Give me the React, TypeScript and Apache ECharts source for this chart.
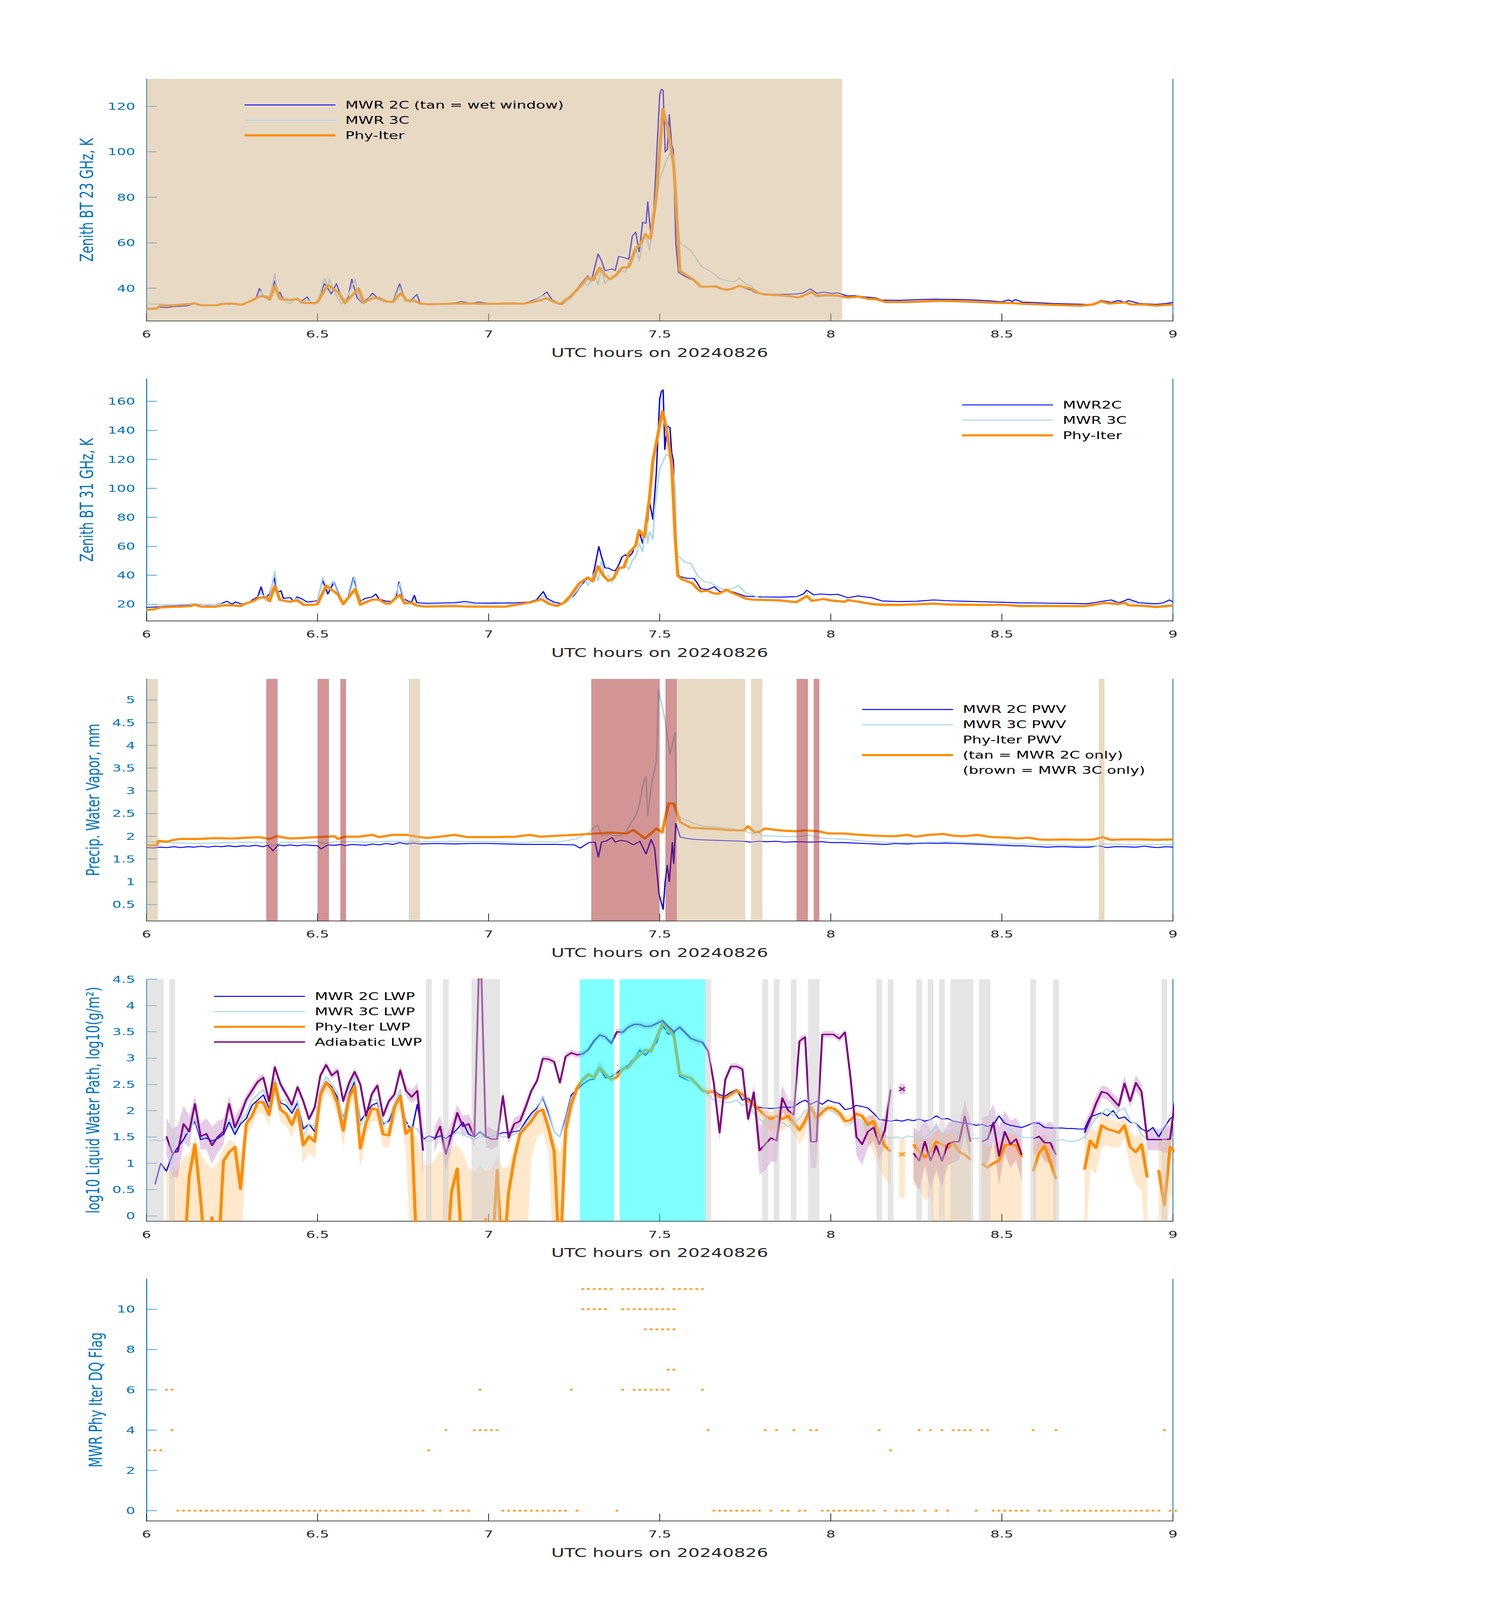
import * as echarts from 'echarts';
import { useEffect, useRef } from 'react';

type Pt = [number, number];
type Opt = number | null;

// ---------- Panel 1: zenith brightness temperature 23 GHz (K), [UTC hour, K] ----------
const bt23Mwr2c: Pt[] = [
  [6.00,31.3],[6.02,31.2],[6.04,31.6],[6.06,31.5],[6.08,31.9],[6.10,32.1],[6.12,32.3],[6.14,33.3],[6.16,32.3],[6.18,32.6],
  [6.20,32.4],[6.22,33.4],[6.24,32.9],[6.26,33.4],[6.28,32.8],[6.30,34.3],[6.32,35.5],[6.33,39.9],[6.345,35.8],[6.36,36.2],
  [6.375,43.2],[6.385,37.0],[6.39,38.3],[6.40,35.0],[6.42,34.6],[6.44,35.5],[6.45,34.0],[6.47,36.2],[6.48,33.4],[6.50,33.8],
  [6.52,42.0],[6.53,40.0],[6.54,37.5],[6.555,42.0],[6.57,36.0],[6.58,33.2],[6.59,36.5],[6.60,44.0],[6.615,36.0],[6.63,33.6],
  [6.65,35.8],[6.66,37.9],[6.68,35.2],[6.70,34.3],[6.72,34.0],[6.74,42.0],[6.755,35.0],[6.77,34.2],[6.79,37.3],[6.80,33.4],
  [6.82,33.0],[6.86,33.2],[6.90,33.5],[6.92,34.2],[6.95,33.3],[6.97,34.0],[7.00,33.3],[7.04,33.4],[7.08,33.5],[7.10,33.2],
  [7.12,34.2],[7.14,35.3],[7.155,36.5],[7.17,38.4],[7.185,35.0],[7.20,33.6],[7.215,33.0],[7.24,36.0],[7.27,42.0],[7.29,45.5],
  [7.30,43.0],[7.32,55.1],[7.33,52.0],[7.34,47.7],[7.36,48.5],[7.37,47.8],[7.38,54.0],[7.40,53.3],[7.41,52.8],[7.42,63.0],
  [7.43,64.7],[7.44,56.0],[7.45,69.0],[7.46,68.5],[7.465,78.0],[7.475,62.0],[7.48,67.0],[7.49,95.0],[7.50,125.0],[7.505,127.5],
  [7.51,127.0],[7.516,99.9],[7.522,101.0],[7.528,116.3],[7.535,103.0],[7.54,100.7],[7.547,60.0],[7.555,47.0],[7.57,45.5],[7.59,44.0],
  [7.60,43.5],[7.62,40.5],[7.65,40.8],[7.68,40.0],[7.70,39.5],[7.72,40.3],[7.73,41.0],[7.75,40.0],[7.77,39.0],[7.78,38.0],
  [7.80,37.5],[7.85,37.3],[7.90,37.5],[7.92,38.0],[7.94,39.7],[7.96,37.8],[7.98,38.3],[8.00,37.8],[8.02,38.0],[8.05,36.6],
  [8.07,36.8],[8.10,36.2],[8.13,35.8],[8.15,34.8],[8.20,34.7],[8.25,35.0],[8.30,35.2],[8.35,35.1],[8.40,35.0],[8.45,34.6],
  [8.50,34.1],[8.52,34.9],[8.53,34.2],[8.54,35.0],[8.56,33.9],[8.60,33.7],[8.65,33.3],[8.70,33.1],[8.75,32.9],[8.77,33.2],
  [8.79,34.7],[8.82,33.8],[8.84,34.6],[8.86,33.9],[8.87,34.5],[8.90,33.4],[8.95,32.9],[8.98,33.3],[9.00,33.8],
];
const bt23Mwr3c: Pt[] = [
  [6.00,33.2],[6.02,33.0],[6.04,33.1],[6.06,32.8],[6.08,32.9],[6.10,32.8],[6.12,32.7],[6.14,33.6],[6.16,32.5],[6.18,32.8],
  [6.20,32.4],[6.22,33.3],[6.24,33.0],[6.26,33.2],[6.28,32.6],[6.30,34.0],[6.32,35.3],[6.335,38.5],[6.35,35.2],[6.36,36.0],
  [6.375,46.5],[6.385,35.5],[6.40,34.6],[6.42,33.2],[6.44,36.0],[6.45,33.2],[6.47,35.0],[6.49,33.0],[6.50,33.5],[6.52,44.4],
  [6.53,41.0],[6.535,44.0],[6.55,38.0],[6.57,33.0],[6.59,37.0],[6.61,44.0],[6.62,36.0],[6.635,33.0],[6.65,35.5],[6.66,36.8],
  [6.68,34.8],[6.70,34.0],[6.72,33.6],[6.74,40.5],[6.755,34.5],[6.77,33.8],[6.79,34.2],[6.80,33.2],[6.85,33.0],[6.90,33.4],
  [6.92,33.8],[6.95,33.1],[7.00,33.2],[7.05,33.3],[7.10,33.0],[7.12,33.8],[7.14,35.0],[7.16,36.8],[7.17,35.8],[7.19,34.0],
  [7.21,33.0],[7.24,35.5],[7.26,39.5],[7.28,42.5],[7.29,41.0],[7.31,46.0],[7.32,41.5],[7.33,49.0],[7.34,42.0],[7.35,44.0],
  [7.37,45.5],[7.38,48.0],[7.40,47.0],[7.42,55.0],[7.43,58.5],[7.44,52.0],[7.45,60.0],[7.46,64.0],[7.47,56.8],[7.48,66.0],
  [7.49,80.0],[7.50,88.0],[7.51,92.0],[7.52,96.6],[7.535,100.3],[7.54,98.0],[7.548,75.0],[7.555,61.0],[7.566,59.2],[7.59,56.8],
  [7.603,53.9],[7.621,49.8],[7.64,48.1],[7.658,46.5],[7.677,44.0],[7.70,43.2],[7.72,43.0],[7.733,44.4],[7.751,42.0],[7.77,40.7],
  [7.788,37.9],[7.81,37.0],[7.85,36.7],[7.90,35.8],[7.92,37.0],[7.943,38.0],[7.96,36.2],[7.99,36.6],[8.02,36.5],[8.05,35.6],
  [8.08,36.0],[8.11,35.0],[8.14,34.8],[8.16,33.6],[8.22,33.6],[8.28,33.9],[8.33,34.1],[8.38,33.9],[8.45,33.4],[8.50,33.1],
  [8.53,33.7],[8.56,32.8],[8.62,32.6],[8.68,32.3],[8.73,32.0],[8.77,32.5],[8.79,33.9],[8.81,33.0],[8.84,33.6],[8.87,33.4],
  [8.90,32.6],[8.95,32.1],[9.00,32.6],
];
const bt23PhyIter: Pt[] = [
  [6.00,30.9],[6.03,31.1],[6.04,32.3],[6.08,32.4],[6.10,32.8],[6.13,33.1],[6.14,33.4],[6.16,32.5],[6.20,32.5],[6.23,33.2],
  [6.25,33.2],[6.28,32.8],[6.31,34.8],[6.33,36.4],[6.35,36.4],[6.36,35.0],[6.375,40.9],[6.39,35.4],[6.42,34.8],[6.44,35.3],
  [6.46,33.5],[6.49,33.5],[6.50,33.9],[6.53,41.4],[6.56,38.3],[6.58,33.5],[6.62,39.9],[6.635,33.7],[6.66,35.6],[6.68,35.8],
  [6.70,34.2],[6.72,34.0],[6.745,38.0],[6.76,34.6],[6.78,34.7],[6.80,33.3],[6.82,33.0],[6.87,33.1],[6.90,33.3],[6.95,33.3],
  [7.00,33.1],[7.05,33.3],[7.10,33.2],[7.13,34.0],[7.15,34.6],[7.17,35.6],[7.19,34.0],[7.21,33.1],[7.24,36.5],[7.27,41.1],
  [7.29,44.8],[7.306,43.6],[7.324,49.0],[7.345,45.0],[7.355,44.0],[7.374,46.0],[7.39,49.0],[7.41,49.4],[7.43,57.2],[7.444,59.6],
  [7.458,63.7],[7.473,61.7],[7.49,80.0],[7.509,118.8],[7.522,111.4],[7.541,94.0],[7.547,80.0],[7.559,47.7],[7.578,45.7],[7.597,44.0],
  [7.62,40.7],[7.646,40.7],[7.665,40.9],[7.677,39.9],[7.696,39.3],[7.714,39.9],[7.733,41.1],[7.751,40.3],[7.764,40.0],[7.788,37.9],
  [7.807,37.3],[7.844,37.0],[7.881,36.6],[7.90,36.0],[7.912,36.2],[7.943,38.3],[7.962,36.6],[7.986,37.0],[8.017,36.9],[8.048,36.0],
  [8.079,36.4],[8.11,35.4],[8.129,35.3],[8.16,34.0],[8.22,34.0],[8.26,34.2],[8.32,34.6],[8.38,34.3],[8.47,33.8],[8.52,33.5],
  [8.57,33.2],[8.655,32.7],[8.73,32.4],[8.766,32.9],[8.79,34.3],[8.815,33.3],[8.86,33.8],[8.877,32.9],[8.915,32.9],[8.95,32.4],
  [9.00,32.9],
];
const bt23Ticks = [40, 60, 80, 100, 120];
// wet-window flag, inclusive runs of minutes after 06:00 UTC
const wetWindowRuns = [[0, 121]];

// ---------- Panel 2: zenith brightness temperature 31 GHz (K) ----------
const bt31Mwr2c: Pt[] = [
  [6.00,17.7],[6.03,18.1],[6.06,18.6],[6.10,19.0],[6.13,19.3],[6.15,19.8],[6.18,19.5],[6.20,19.6],[6.22,20.6],[6.235,22.0],
  [6.25,20.0],[6.26,21.5],[6.28,20.0],[6.30,21.0],[6.31,23.0],[6.325,25.0],[6.335,31.9],[6.345,23.5],[6.36,27.0],[6.373,38.4],
  [6.382,28.0],[6.393,29.3],[6.40,24.0],[6.42,24.5],[6.43,22.0],[6.44,25.0],[6.455,23.5],[6.47,21.5],[6.49,22.0],[6.50,22.5],
  [6.505,28.0],[6.515,36.5],[6.53,27.0],[6.548,35.2],[6.56,28.0],[6.575,21.0],[6.59,25.0],[6.605,38.4],[6.615,30.0],[6.625,22.0],
  [6.64,24.0],[6.66,25.0],[6.67,27.0],[6.68,23.5],[6.70,22.0],[6.72,22.0],[6.73,26.0],[6.738,35.2],[6.75,24.0],[6.765,22.0],
  [6.775,21.5],[6.783,26.1],[6.79,21.0],[6.82,20.6],[6.86,20.8],[6.90,21.0],[6.93,21.8],[6.96,20.8],[7.00,20.7],[7.04,20.8],
  [7.08,20.9],[7.10,21.2],[7.12,21.6],[7.14,23.0],[7.16,28.7],[7.17,24.0],[7.19,21.5],[7.21,20.5],[7.23,22.0],[7.25,26.0],
  [7.27,33.0],[7.29,38.0],[7.30,35.8],[7.31,45.0],[7.322,59.8],[7.33,52.7],[7.34,45.0],[7.35,44.9],[7.36,43.6],[7.37,43.0],
  [7.38,46.9],[7.39,52.7],[7.40,54.0],[7.41,52.7],[7.42,55.3],[7.43,62.4],[7.44,70.2],[7.45,61.8],[7.46,76.7],[7.465,77.4],
  [7.47,91.0],[7.48,78.6],[7.49,110.0],[7.50,161.7],[7.505,166.9],[7.51,168.0],[7.515,126.7],[7.522,142.9],[7.53,142.0],[7.535,124.7],
  [7.54,118.9],[7.547,70.0],[7.552,41.0],[7.56,39.0],[7.58,37.8],[7.60,37.8],[7.61,34.5],[7.62,30.6],[7.64,30.0],[7.66,32.0],
  [7.675,28.7],[7.70,29.3],[7.72,28.0],[7.75,25.5],[7.80,25.0],[7.85,24.8],[7.90,25.2],[7.92,27.0],[7.93,29.6],[7.95,26.4],
  [7.97,27.0],[8.00,26.5],[8.02,26.8],[8.05,24.4],[8.08,25.7],[8.10,25.0],[8.12,24.4],[8.15,22.2],[8.20,21.8],[8.25,22.0],
  [8.30,22.9],[8.35,22.3],[8.40,21.9],[8.45,21.6],[8.50,21.3],[8.55,20.9],[8.60,20.8],[8.65,20.6],[8.70,20.5],[8.75,20.3],
  [8.77,21.0],[8.80,22.2],[8.82,22.9],[8.84,21.0],[8.85,21.5],[8.87,23.5],[8.90,21.0],[8.93,20.5],[8.95,20.3],[8.97,20.8],
  [8.99,22.9],[9.00,21.5],
];
const bt31Mwr3c: Pt[] = [
  [6.00,19.6],[6.04,19.6],[6.08,19.8],[6.12,20.0],[6.14,20.5],[6.16,19.8],[6.20,19.5],[6.22,20.3],[6.25,19.6],[6.28,19.8],
  [6.30,20.8],[6.32,22.5],[6.335,28.0],[6.35,22.0],[6.36,25.0],[6.375,43.0],[6.385,24.0],[6.40,23.0],[6.42,21.5],[6.44,24.0],
  [6.46,21.0],[6.48,21.0],[6.50,22.0],[6.515,38.4],[6.53,30.0],[6.545,36.0],[6.56,27.0],[6.575,20.0],[6.59,24.0],[6.608,39.0],
  [6.62,25.0],[6.635,21.5],[6.66,23.5],[6.68,22.5],[6.70,21.0],[6.72,21.5],[6.74,34.5],[6.755,21.5],[6.78,21.0],[6.80,19.8],
  [6.85,19.8],[6.90,20.0],[6.92,20.8],[6.95,19.8],[7.00,19.9],[7.05,20.0],[7.10,20.3],[7.12,21.0],[7.14,22.5],[7.16,25.5],
  [7.175,21.8],[7.20,19.8],[7.22,20.5],[7.24,24.0],[7.26,30.0],[7.28,37.0],[7.29,33.0],[7.31,42.0],[7.32,36.0],[7.33,50.0],
  [7.34,38.0],[7.35,40.0],[7.36,35.0],[7.37,39.0],[7.38,44.0],[7.40,47.0],[7.41,44.0],[7.42,50.0],[7.43,53.0],[7.44,62.0],
  [7.45,56.0],[7.46,80.0],[7.465,62.0],[7.47,70.0],[7.48,65.0],[7.485,85.0],[7.50,113.7],[7.52,123.4],[7.535,121.0],[7.545,100.0],
  [7.55,54.0],[7.56,52.0],[7.575,48.8],[7.59,48.2],[7.60,44.3],[7.61,39.7],[7.63,35.8],[7.65,34.5],[7.68,30.6],[7.70,30.0],
  [7.72,31.5],[7.73,33.2],[7.75,28.0],[7.78,25.5],[7.80,23.5],[7.85,23.2],[7.90,22.0],[7.93,25.0],[7.95,22.8],[7.98,23.8],
  [8.00,23.2],[8.05,22.0],[8.08,22.3],[8.10,21.2],[8.15,20.2],[8.20,20.0],[8.25,20.3],[8.30,20.6],[8.35,20.2],[8.40,20.0],
  [8.45,19.8],[8.50,20.0],[8.55,19.4],[8.60,19.3],[8.65,19.2],[8.70,19.1],[8.75,19.3],[8.78,20.0],[8.80,20.5],[8.82,21.5],
  [8.85,20.3],[8.87,22.0],[8.90,19.8],[8.95,19.2],[9.00,19.6],
];
const bt31PhyIter: Pt[] = [
  [6.00,16.0],[6.02,16.4],[6.04,17.7],[6.07,18.1],[6.10,18.3],[6.13,18.7],[6.14,19.6],[6.16,18.3],[6.20,18.2],[6.22,19.0],
  [6.25,19.2],[6.275,18.6],[6.29,20.5],[6.31,21.9],[6.33,24.5],[6.35,24.7],[6.36,22.1],[6.375,32.6],[6.39,22.9],[6.42,21.6],
  [6.44,22.6],[6.46,19.4],[6.49,19.6],[6.50,20.0],[6.525,32.8],[6.56,26.7],[6.575,20.0],[6.61,30.4],[6.625,19.6],[6.66,23.1],
  [6.68,23.1],[6.70,20.3],[6.71,20.3],[6.74,26.5],[6.755,20.5],[6.775,20.9],[6.79,19.0],[6.81,18.3],[6.90,18.7],[6.95,18.3],
  [7.00,18.3],[7.05,18.3],[7.10,20.3],[7.13,21.6],[7.155,23.4],[7.175,20.3],[7.20,18.7],[7.22,20.9],[7.24,26.1],[7.265,34.5],
  [7.29,38.4],[7.305,35.8],[7.32,46.2],[7.335,39.7],[7.35,36.1],[7.365,37.8],[7.38,44.9],[7.395,45.3],[7.41,55.3],[7.43,60.5],
  [7.44,71.1],[7.455,66.3],[7.47,92.9],[7.48,118.9],[7.508,153.3],[7.52,140.9],[7.535,116.3],[7.545,67.0],[7.553,39.7],[7.565,37.1],
  [7.58,35.8],[7.595,34.5],[7.61,30.6],[7.62,28.7],[7.64,29.3],[7.655,27.7],[7.67,27.1],[7.68,28.0],[7.695,30.0],[7.71,28.0],
  [7.73,26.1],[7.75,23.9],[7.77,23.1],[7.80,22.9],[7.85,22.5],[7.90,21.3],[7.93,25.7],[7.945,22.2],[7.96,22.9],[7.98,23.5],
  [8.00,22.5],[8.04,21.6],[8.05,22.9],[8.09,21.3],[8.12,20.0],[8.15,19.4],[8.20,19.4],[8.30,20.3],[8.35,19.6],[8.45,19.4],
  [8.50,19.6],[8.55,18.7],[8.65,18.7],[8.74,18.6],[8.77,19.6],[8.80,20.9],[8.84,20.0],[8.86,20.9],[8.87,19.2],[8.92,18.7],
  [8.95,17.9],[9.00,19.0],
];
const bt31Ticks = [20, 40, 60, 80, 100, 120, 140, 160];

// ---------- Panel 3: precipitable water vapour (mm) ----------
const pwvMwr2c: Pt[] = [
  [6.00,1.75],[6.02,1.74],[6.04,1.76],[6.06,1.75],[6.08,1.77],[6.10,1.75],[6.12,1.77],[6.14,1.76],[6.16,1.78],[6.18,1.76],
  [6.20,1.78],[6.22,1.77],[6.24,1.79],[6.26,1.77],[6.28,1.79],[6.30,1.78],[6.32,1.80],[6.34,1.77],[6.355,1.80],[6.37,1.68],
  [6.385,1.81],[6.40,1.79],[6.42,1.81],[6.44,1.79],[6.46,1.81],[6.48,1.80],[6.50,1.79],[6.51,1.72],[6.53,1.81],[6.55,1.80],
  [6.57,1.82],[6.58,1.79],[6.60,1.82],[6.62,1.81],[6.64,1.80],[6.66,1.83],[6.68,1.81],[6.70,1.84],[6.72,1.82],[6.74,1.86],
  [6.76,1.83],[6.78,1.85],[6.80,1.83],[6.85,1.84],[6.90,1.83],[6.95,1.84],[7.00,1.84],[7.05,1.83],[7.10,1.82],[7.15,1.82],
  [7.20,1.82],[7.25,1.81],[7.268,1.74],[7.28,1.80],[7.293,1.86],[7.311,1.87],[7.321,1.54],[7.33,1.87],[7.345,1.90],[7.361,1.97],
  [7.37,1.87],[7.385,1.91],[7.404,1.89],[7.423,1.81],[7.442,1.89],[7.46,1.61],[7.475,1.93],[7.485,1.74],[7.498,0.73],[7.51,0.39],
  [7.516,1.00],[7.522,1.36],[7.528,1.00],[7.537,1.86],[7.541,1.40],[7.547,2.28],[7.56,1.98],[7.58,1.95],[7.603,1.93],[7.63,1.92],
  [7.665,1.91],[7.70,1.90],[7.746,1.89],[7.764,1.87],[7.79,1.89],[7.814,1.88],[7.84,1.89],[7.864,1.87],[7.90,1.88],[7.938,1.87],
  [7.975,1.88],[8.00,1.86],[8.037,1.86],[8.07,1.85],[8.099,1.84],[8.13,1.83],[8.161,1.82],[8.19,1.84],[8.223,1.83],[8.25,1.84],
  [8.285,1.85],[8.31,1.84],[8.335,1.85],[8.37,1.84],[8.41,1.83],[8.45,1.82],[8.484,1.81],[8.51,1.80],[8.533,1.79],[8.56,1.79],
  [8.583,1.78],[8.61,1.77],[8.633,1.76],[8.66,1.77],[8.682,1.77],[8.72,1.76],[8.757,1.76],[8.782,1.79],[8.807,1.75],[8.83,1.77],
  [8.856,1.77],[8.89,1.76],[8.918,1.78],[8.94,1.76],[8.955,1.75],[8.98,1.77],[9.00,1.76],
];
const pwvMwr3c: Pt[] = [
  [6.00,1.88],[6.03,1.87],[6.06,1.86],[6.10,1.85],[6.15,1.84],[6.20,1.85],[6.25,1.86],[6.30,1.87],[6.35,1.86],[6.37,1.80],
  [6.40,1.87],[6.45,1.86],[6.50,1.88],[6.52,1.84],[6.55,1.88],[6.60,1.88],[6.65,1.87],[6.70,1.89],[6.75,1.89],[6.80,1.88],
  [6.85,1.88],[6.90,1.89],[6.95,1.88],[7.00,1.88],[7.05,1.87],[7.10,1.86],[7.15,1.88],[7.20,1.87],[7.256,1.94],[7.293,2.08],
  [7.318,2.25],[7.33,2.02],[7.355,2.04],[7.38,2.00],[7.40,2.08],[7.417,2.30],[7.43,2.45],[7.44,2.67],[7.45,3.10],[7.46,3.31],
  [7.465,2.45],[7.475,3.10],[7.49,3.64],[7.497,5.22],[7.515,4.57],[7.53,3.80],[7.545,4.27],[7.55,2.49],[7.56,2.42],[7.58,2.35],
  [7.60,2.28],[7.63,2.22],[7.67,2.20],[7.71,2.17],[7.75,2.11],[7.77,2.06],[7.79,2.08],[7.80,2.01],[7.85,2.00],[7.90,1.99],
  [7.94,2.02],[7.97,1.96],[8.00,1.95],[8.05,1.93],[8.10,1.89],[8.15,1.87],[8.20,1.86],[8.25,1.86],[8.30,1.87],[8.35,1.88],
  [8.40,1.86],[8.45,1.85],[8.50,1.84],[8.55,1.83],[8.60,1.82],[8.65,1.81],[8.70,1.80],[8.75,1.79],[8.78,1.79],[8.80,1.83],
  [8.85,1.82],[8.90,1.81],[8.95,1.82],[9.00,1.82],
];
const pwvPhyIter: Pt[] = [
  [6.00,1.80],[6.03,1.80],[6.035,1.90],[6.06,1.88],[6.08,1.92],[6.10,1.94],[6.15,1.94],[6.20,1.96],[6.25,1.95],[6.33,1.98],
  [6.36,1.94],[6.38,2.00],[6.42,1.95],[6.45,1.96],[6.50,1.98],[6.55,2.00],[6.56,1.94],[6.58,1.99],[6.62,1.99],[6.66,2.03],
  [6.68,1.98],[6.72,2.03],[6.76,2.03],[6.80,1.98],[6.82,1.96],[6.87,2.00],[6.90,2.03],[6.94,1.98],[7.00,1.98],[7.08,1.99],
  [7.12,2.03],[7.15,1.99],[7.20,2.01],[7.25,2.03],[7.293,2.05],[7.355,2.08],[7.404,2.06],[7.423,2.14],[7.457,1.95],[7.491,2.17],
  [7.507,2.08],[7.526,2.72],[7.541,2.72],[7.56,2.31],[7.59,2.19],[7.628,2.17],[7.665,2.16],[7.708,2.13],[7.746,2.13],[7.758,2.22],
  [7.777,2.09],[7.789,2.09],[7.808,2.17],[7.839,2.14],[7.864,2.12],[7.90,2.11],[7.925,2.13],[7.963,2.11],[7.994,2.06],[8.037,2.06],
  [8.087,2.03],[8.136,2.01],[8.186,2.00],[8.223,2.03],[8.248,1.99],[8.285,2.03],[8.329,2.05],[8.36,2.01],[8.39,2.00],[8.428,2.03],
  [8.471,1.98],[8.521,1.97],[8.546,1.95],[8.577,1.97],[8.608,1.93],[8.639,1.92],[8.682,1.93],[8.732,1.92],[8.769,1.93],[8.794,1.98],
  [8.819,1.92],[8.856,1.93],[8.906,1.93],[8.955,1.92],[9.00,1.93],
];
const pwvTicks = [0.5, 1, 1.5, 2, 2.5, 3, 3.5, 4, 4.5, 5];
// retrieval source, inclusive runs of minutes after 06:00 UTC
const pwvOnly2cRuns = [[0, 1], [46, 47], [93, 104], [106, 107], [167, 167]];
const pwvOnly3cRuns = [[21, 22], [30, 31], [34, 34], [78, 89], [91, 92], [114, 115], [117, 117]];

// ---------- Panel 4: log10 LWP, 1-minute values; index k sits at 06:00 + (k + 0.5) min ----------
const lwpMwr2c: Opt[] = [
  null, 0.6, 1.0, 0.85, 1.15, 1.3, 1.45, 1.65, 1.8, 1.45,
  1.48, 1.42, 1.47, 1.55, 1.78, 1.55, 1.75, 1.85, 2.1, 2.2,
  2.3, 2.05, 2.55, 2.15, 2.1, 1.95, 2.15, 1.65, 1.75, 1.6,
  2.35, 2.55, 2.45, 2.25, 1.85, 2.3, 2.55, 1.8, 1.95, 2.1,
  2.15, 1.75, 1.8, 2.1, 2.3, 1.8, 1.6, 2.12, 1.45, 1.52,
  1.48, 1.52, 1.47, 1.55, 1.65, 1.78, 1.55, 1.5, 1.6, 1.5,
  1.5, 1.55, 1.58, 1.58, 1.6, 1.62, 1.8, 1.95, 2.05, 2.25,
  1.95, 1.6, 1.5, 1.85, 2.3, 2.4, 2.5, 2.58, 2.6, 2.8,
  2.62, 2.65, 2.72, 2.8, 2.86, 3.0, 3.15, 3.05, 3.18, 3.3,
  3.62, 3.45, 3.5, 2.65, 2.6, 2.55, 2.5, 2.4, 2.33, 2.38,
  2.3, 2.28, 2.35, 2.4, 2.2, 2.24, 2.1, 2.06, 2.05, 2.04,
  2.05, 2.07, 2.06, 2.07, 2.15, 2.2, 2.12, 2.18, 2.12, 2.2,
  2.16, 2.14, 2.02, 2.04, 2.1, 2.08, 2.05, 1.95, 1.83, 1.82,
  1.8, 1.82, 1.8, 1.83, 1.81, 1.84, 1.8, 1.83, 1.9, 1.84,
  1.85, 1.8, 1.78, 1.76, 1.75, 1.72, 1.74, 1.7, 1.73, 1.9,
  1.76, 1.72, 1.7, 1.68, 1.72, 1.77, 1.76, 1.68, 1.67, 1.67,
  1.67, 1.66, 1.66, 1.65, 1.65, 1.88, 1.92, 1.96, 1.9, 2.0,
  1.85, 1.88, 1.78, 1.76, 1.65, 1.6, 1.68, 1.5, 1.68, 1.85,
  1.9,
];
const lwpMwr3c: Opt[] = [
  1.43, 1.44, 1.42, 1.45, 1.35, 1.5, 1.55, 1.6, 1.85, 1.5,
  1.5, 1.45, 1.5, 1.6, 1.85, 1.6, 1.8, 1.95, 2.2, 2.3,
  2.4, 2.1, 2.62, 2.2, 2.2, 2.0, 2.2, 1.5, 1.75, 1.7,
  2.4, 2.65, 2.5, 2.35, 1.8, 2.4, 2.65, 1.7, 1.95, 2.2,
  2.2, 1.7, 1.85, 2.15, 2.4, 1.75, 1.7, 1.65, 1.45, 1.42,
  1.45, 1.5, 1.45, 1.5, 1.6, 1.55, 1.5, 1.45, 1.52, 1.48,
  1.5, 1.55, 1.5, 1.5, 1.55, 1.6, 1.75, 1.9, 2.0, 2.28,
  2.0, 1.6, 1.5, 1.8, 2.25, 2.4, 2.55, 2.65, 2.7, 2.9,
  2.7, 2.6, 2.75, 2.85, 2.8, 3.0, 3.2, 3.1, 3.2, 3.35,
  3.55, 3.5, 3.45, 2.7, 2.62, 2.55, 2.5, 2.4, 2.3, 2.2,
  2.18, 2.15, 2.16, 2.2, 2.1, 2.12, 1.95, 1.84, 1.75, 1.8,
  1.72, 1.78, 1.7, 1.75, 1.85, 2.0, 2.05, 1.95, 2.06, 2.02,
  1.98, 1.9, 1.8, 1.75, 1.85, 1.8, 1.65, 1.6, 1.53, 1.5,
  1.48, 1.5, 1.47, 1.52, 1.5, 1.52, 1.5, 1.58, 1.7, 1.55,
  1.62, 1.6, 1.55, 1.5, 1.48, 1.47, 1.48, 1.5, 1.6, 1.55,
  1.5, 1.65, 1.55, 1.5, 1.48, 1.5, 1.46, 1.45, 1.44, 1.43,
  1.45, 1.42, 1.41, 1.44, 1.5, 1.7, 1.85, 1.95, 2.04, 1.9,
  2.0, 2.05, 1.8, 1.75, 1.55, 1.45, 1.48, 1.43, 1.45, 1.5,
  1.48,
];
// -1 marks a zero/undefined log value (drawn off the bottom of the axis)
const lwpPhyIter: Opt[] = [
  null, null, null, -1, -1, -1, -1, 0.75, 1.36, 0.31,
  -1, -0.03, -1, 1.04, 1.21, 1.31, 0.51, 1.75, 1.9, 2.16,
  2.16, 1.92, 2.53, 2.02, 1.94, 1.73, 2.02, 1.34, 1.51, 1.41,
  2.3, 2.53, 2.41, 2.14, 1.62, 2.24, 2.47, 1.28, 1.77, 2.04,
  2.02, 1.55, 1.53, 2.07, 2.28, 1.56, 1.68, -1, -1, -1,
  -1, -1, -1, 0.46, 0.9, -1, -1, -1, -1, -0.06,
  -1, 0.87, -1, 0.44, 1.09, 1.56, 1.68, 1.8, 1.97, 2.02,
  1.67, 1.22, -1, 1.63, 2.13, 2.43, 2.59, 2.69, 2.62, 2.82,
  2.69, 2.59, 2.64, 2.79, 2.82, 2.96, 3.06, 3.16, 3.13, 3.4,
  3.66, 3.55, 3.42, 2.69, 2.65, 2.62, 2.5, 2.38, 2.36, 2.36,
  2.26, 2.24, 2.31, 2.38, 2.31, 2.18, 2.11, 2.01, 1.9, 1.84,
  1.9, 1.84, 1.9, 1.77, 1.63, 1.8, 2.07, 1.85, 1.97, 2.06,
  2.04, 1.96, 1.8, 1.82, 1.94, 1.9, 1.73, 1.8, 1.53, 1.33,
  1.22, null, 1.17, null, 1.36, 1.22, 1.11, 1.21, 1.41, 1.36,
  1.29, 1.39, 1.22, 1.16, 1.07, null, 0.99, 0.92, 1.0, 1.05,
  1.34, 1.36, 1.34, 1.12, null, 0.85, 1.19, 1.33, 1.02, 0.7,
  null, null, null, null, 0.88, 1.43, 1.29, 1.72, 1.65, 1.62,
  1.58, 1.72, 1.31, 1.21, 1.36, 0.73, null, 0.87, 0.2, 1.31,
  1.21,
];
const lwpPhyIterHi: Opt[] = [
  null, null, null, 1.0, 0.8, 0.9, 1.1, 1.2, 1.5, 1.2,
  1.0, 0.9, 1.0, 1.3, 1.45, 1.4, 1.2, 1.85, 2.0, 2.25,
  2.25, 2.0, 2.6, 2.1, 2.0, 1.85, 2.1, 1.5, 1.6, 1.5,
  2.4, 2.6, 2.5, 2.25, 1.75, 2.35, 2.55, 1.45, 1.9, 2.15,
  2.1, 1.7, 1.65, 2.15, 2.35, 1.65, 1.55, 1.5, 1.0, 0.95,
  1.05, 1.25, 1.1, 1.3, 1.35, 1.2, 0.9, 0.85, 0.95, 0.85,
  0.9, 1.1, 0.9, 0.95, 1.3, 1.65, 1.75, 1.9, 2.05, 2.1,
  1.8, 1.45, 1.2, 1.75, 2.2, 2.5, 2.66, 2.76, 2.69, 2.89,
  2.76, 2.66, 2.71, 2.86, 2.89, 3.03, 3.13, 3.23, 3.2, 3.47,
  3.73, 3.62, 3.49, 2.76, 2.72, 2.69, 2.57, 2.45, 2.43, 2.43,
  2.33, 2.31, 2.38, 2.45, 2.38, 2.25, 2.2, 2.12, 2.02, 1.98,
  2.05, 2.0, 2.04, 1.92, 1.8, 1.95, 2.15, 1.95, 2.05, 2.13,
  2.11, 2.04, 1.9, 1.92, 2.02, 1.98, 1.85, 1.92, 1.7, 1.55,
  1.5, null, 1.45, null, 1.6, 1.5, 1.45, 1.5, 1.62, 1.6,
  1.55, 1.65, 1.6, 2.07, 1.4, null, 1.35, 1.3, 1.35, 1.4,
  1.55, 1.58, 1.55, 1.4, null, 1.3, 1.45, 1.55, 1.35, 1.1,
  null, null, null, null, 1.35, 1.7, 1.6, 1.95, 1.85, 1.82,
  1.8, 1.95, 1.6, 1.5, 1.6, 1.2, null, 1.6, 1.3, 1.6,
  1.5,
];
const lwpPhyIterLo: Opt[] = [
  null, null, null, -1, -1, -1, -1, -1, -1, -1,
  -1, -1, -1, -1, -1, -1, -1, 1.5, 1.7, 1.95,
  1.95, 1.7, 2.3, 1.8, 1.7, 1.5, 1.8, 1.0, 1.2, 1.1,
  2.1, 2.35, 2.2, 1.9, 1.3, 2.0, 2.25, 0.9, 1.5, 1.8,
  1.8, 1.3, 1.3, 1.8, 2.05, 1.2, -1, -1, -1, -1,
  -1, -1, -1, -1, -1, -1, -1, -1, -1, -1,
  -1, -1, -1, -1, -1, -1, -1, 1.1, 1.5, 1.6,
  1.2, -1, -1, 1.2, 1.9, 2.3, 2.52, 2.62, 2.55, 2.75,
  2.62, 2.52, 2.57, 2.72, 2.75, 2.89, 2.99, 3.09, 3.06, 3.33,
  3.59, 3.48, 3.35, 2.62, 2.58, 2.55, 2.43, 2.31, 2.29, 2.29,
  2.19, 2.17, 2.24, 2.31, 2.24, 2.1, 2.0, 1.85, 1.7, 1.6,
  1.65, 1.6, 1.7, 1.55, 1.35, 1.55, 1.95, 1.7, 1.85, 1.98,
  1.96, 1.85, 1.7, 1.72, 1.85, 1.8, 1.4, 1.2, 0.9, 0.7,
  0.55, null, 0.34, null, 0.6, 0.5, 0.3, 0.35, -1, 0.2,
  -1, -1, -1, -1, -1, null, -1, -1, -1, -1,
  -1, -1, -1, -1, null, -1, -1, -1, -1, -1,
  null, null, null, null, -1, 0.9, 0.8, 1.3, 1.35, 1.3,
  1.3, 1.5, 0.9, 0.6, 0.5, -1, null, -1, -1, 0.4,
  0.3,
];
const lwpAdiabatic: Opt[] = [
  null, null, null, 1.51, 1.2, 1.22, 1.75, 1.6, 2.13, 1.51,
  1.56, 1.34, 1.5, 1.6, 2.13, 1.68, 1.92, 2.21, 2.38, 2.55,
  2.63, 2.18, 2.83, 2.5, 2.31, 2.11, 2.45, 2.18, 1.84, 2.06,
  2.67, 2.87, 2.67, 2.76, 2.18, 2.52, 2.74, 2.5, 1.9, 2.31,
  2.48, 1.9, 2.18, 2.31, 2.77, 2.38, 2.26, 2.38, 1.24, null,
  1.45, 1.7, 1.17, 1.55, 1.96, 1.7, 1.75, 1.5, 5.5, 1.5,
  1.46, 1.46, 2.28, 1.48, 1.75, 1.8, 2.07, 2.38, 2.57, 2.99,
  2.98, 2.93, 2.53, 3.03, 3.1, 3.06, 3.08, 3.16, 3.33, 3.44,
  3.4, 3.28, 3.5, 3.49, 3.59, 3.64, 3.64, 3.6, 3.61, 3.66,
  3.71, 3.6, 3.5, 3.59, 3.48, 3.37, 3.33, 3.3, 3.13, 2.52,
  1.58, 2.59, 2.84, 2.84, 2.79, 1.84, 2.35, 1.24, 1.36, 1.48,
  1.43, 2.24, 2.01, 1.92, 3.32, 3.4, 1.41, 1.41, 3.45, 3.45,
  3.45, 3.37, 3.49, 2.59, 1.5, 1.36, 1.6, 1.68, 1.36, 1.63,
  2.4, null, 2.41, null, 1.19, 1.05, 1.41, 1.05, 1.33, 1.04,
  1.36, 1.41, 1.41, 1.89, 1.41, null, 1.41, 1.46, 1.77, 1.14,
  1.6, 1.36, 1.46, 1.16, null, 1.46, 1.51, 1.39, 1.39, 1.16,
  null, null, null, null, 1.58, 1.84, 2.13, 2.36, 2.33, 2.21,
  2.09, 2.52, 2.18, 2.53, 2.36, 1.45, 1.45, 1.45, 1.45, 1.46,
  2.3,
];
const lwpAdiabaticErr: Opt[] = [
  null, null, null, 0.35, 0.45, 0.5, 0.35, 0.3, 0.15, 0.25,
  0.3, 0.35, 0.3, 0.25, 0.15, 0.2, 0.15, 0.1, 0.1, 0.08,
  0.08, 0.1, 0.06, 0.07, 0.07, 0.07, 0.07, 0.07, 0.07, 0.07,
  0.07, 0.07, 0.07, 0.07, 0.07, 0.07, 0.07, 0.07, 0.07, 0.07,
  0.07, 0.07, 0.07, 0.07, 0.08, 0.1, 0.12, 0.15, 0.5, null,
  0.25, 0.2, 0.3, 0.25, 0.15, 0.2, 0.18, 0.2, 0.05, 0.2,
  0.2, 0.15, 0.1, 0.12, 0.12, 0.12, 0.12, 0.06, 0.06, 0.06,
  0.06, 0.06, 0.06, 0.06, 0.06, 0.06, 0.06, 0.06, 0.06, 0.06,
  0.06, 0.06, 0.06, 0.06, 0.06, 0.06, 0.06, 0.06, 0.06, 0.06,
  0.06, 0.06, 0.06, 0.06, 0.06, 0.06, 0.06, 0.06, 0.06, 0.06,
  0.15, 0.08, 0.06, 0.06, 0.06, 0.1, 0.15, 0.45, 0.5, 0.45,
  0.4, 0.25, 0.2, 0.25, 0.08, 0.06, 0.5, 0.5, 0.06, 0.06,
  0.06, 0.06, 0.06, 0.1, 0.35, 0.4, 0.3, 0.25, 0.3, 0.3,
  0.15, null, 0.1, null, 0.5, 0.55, 0.45, 0.55, 0.45, 0.5,
  0.4, 0.4, 0.35, 0.3, 0.4, null, 0.45, 0.45, 0.35, 0.55,
  0.4, 0.45, 0.4, 0.5, null, 0.3, 0.3, 0.35, 0.4, 0.5,
  null, null, null, null, 0.2, 0.15, 0.15, 0.12, 0.12, 0.12,
  0.12, 0.15, 0.12, 0.15, 0.15, 0.2, 0.2, 0.2, 0.25, 0.25,
  0.3,
];
const lwpTicks = [0, 0.5, 1, 1.5, 2, 2.5, 3, 3.5, 4, 4.5];

// ---------- Panel 5: MWR Phy-Iter DQ flag, inclusive runs of minute indices per flag value ----------
const flag0Runs = [[5, 48], [50, 51], [53, 56], [62, 73], [75, 75], [82, 82], [99, 107], [109, 109], [111, 112], [114, 115],
  [118, 127], [129, 129], [131, 134], [136, 136], [138, 138], [140, 140], [145, 145], [148, 154], [156, 158], [160, 177], [179, 180]];
const flag3Runs = [[0, 2], [49, 49], [130, 130]];
const flag4Runs = [[4, 4], [52, 52], [57, 61], [98, 98], [108, 108], [110, 110], [113, 113], [116, 117], [128, 128],
  [135, 135], [137, 137], [139, 139], [141, 144], [146, 147], [155, 155], [159, 159], [178, 178]];
const flag6Runs = [[3, 4], [58, 58], [74, 74], [83, 83], [85, 91], [97, 97]];
const flag7Runs = [[91, 92]];
const flag9Runs = [[87, 92]];
const flag10Runs = [[76, 80], [83, 92]];
const flag11Runs = [[76, 81], [83, 90], [92, 97]];
const flagTicks = [0, 2, 4, 6, 8, 10];

// ---------- styling ----------
const FONT = 'DejaVu Sans';
const AXIS_BLUE = '#0072bd';
const INK = '#262626';
const C_2C = '#0000ff';
const C_3C = '#add8e6';
const C_PHY = '#ff8c00';
const C_ADI = '#800080';
const PAGE_W = 3825;
const PAGE_H = 6000;
// the browser viewport is only 4096 px tall, so the 6000 px page is squeezed to fit it
const VIEW_H = 4096;
const GRID_LEFT = 375;
const GRID_WIDTH = 2628;
const GRID_HEIGHT = 907;
const GRID_TOPS = [296, 1421, 2546, 3672, 4796];

const minuteTime = (k: number) => 6 + (k + 0.5) / 60;
const minuteEdge = (m: number) => 6 + m / 60;

const expandRuns = (runs: number[][]) => {
  const out: number[] = [];
  runs.forEach(([a, b]) => { for (let k = a; k <= b; k++) out.push(k); });
  return out;
};
const toRuns = (mins: number[]) => {
  const sorted = Array.from(new Set(mins)).sort((a, b) => a - b);
  const runs: number[][] = [];
  sorted.forEach((m) => {
    const last = runs[runs.length - 1];
    if (last && m === last[1] + 1) last[1] = m;
    else runs.push([m, m]);
  });
  return runs;
};
const gridded = (arr: Opt[]) => arr.map((v, k) => [minuteTime(k), v === null ? '-' : v]);
const isolated = (arr: Opt[]) =>
  arr.flatMap((v, k) => (v !== null && (arr[k - 1] ?? null) === null && (arr[k + 1] ?? null) === null ? [[minuteTime(k), v]] : []));
const bandRuns = (lo: Opt[], hi: Opt[]) => {
  const runs: number[][][] = [];
  let cur: number[][] | null = null;
  lo.forEach((l, k) => {
    const h = hi[k];
    if (l === null || h === null) { cur = null; return; }
    if (!cur) { cur = []; runs.push(cur); }
    cur.push([minuteTime(k), l, h]);
  });
  return runs;
};

const labels: Record<string, string> = {
  p1_2c: 'MWR 2C (tan = wet window)', p1_3c: 'MWR 3C', p1_phy: 'Phy-Iter',
  p2_2c: 'MWR2C', p2_3c: 'MWR 3C', p2_phy: 'Phy-Iter',
  p3_2c: 'MWR 2C PWV', p3_3c: 'MWR 3C PWV', p3_phy: 'Phy-Iter PWV\n(tan = MWR 2C only)\n(brown = MWR 3C only)',
  p4_2c: 'MWR 2C LWP', p4_3c: 'MWR 3C LWP', p4_phy: 'Phy-Iter LWP', p4_adi: 'Adiabatic LWP',
};

function line(name: string, data: any[], i: number, color: string, width: number) {
  return {
    type: 'line', name, xAxisIndex: i, yAxisIndex: 2 * i, data, color,
    symbol: 'none', showSymbol: false, connectNulls: false, clip: true, z: 2,
    lineStyle: { color, width, join: 'round' }, emphasis: { disabled: true }, silent: true,
  };
}

function spans(runs: number[][], i: number, yBase: number, color: string) {
  return {
    type: 'custom', xAxisIndex: i, yAxisIndex: 2 * i, silent: true, z: 3,
    itemStyle: { color },
    data: runs.map(([a, b]) => [minuteEdge(a), minuteEdge(b + 1), yBase]),
    encode: { x: [0, 1], y: 2 },
    renderItem: (params: any, api: any) => {
      const cs = params.coordSys;
      const a = api.coord([api.value(0), api.value(2)]);
      const b = api.coord([api.value(1), api.value(2)]);
      return { type: 'rect', shape: { x: a[0], y: cs.y, width: b[0] - a[0], height: cs.height }, style: { fill: api.visual('color') } };
    },
  };
}

function band(runs: number[][][], i: number, color: string) {
  return {
    type: 'custom', xAxisIndex: i, yAxisIndex: 2 * i, silent: true, z: 1, clip: true,
    itemStyle: { color },
    data: runs.map((r) => [r[0][0], r[r.length - 1][0], r[0][2]]),
    encode: { x: [0, 1], y: 2 },
    renderItem: (params: any, api: any) => {
      const run = runs[params.dataIndex];
      const pts = run.length === 1
        ? [[run[0][0] - 1 / 120, run[0][1], run[0][2]], [run[0][0] + 1 / 120, run[0][1], run[0][2]]]
        : run;
      const upper = pts.map((p) => api.coord([p[0], p[2]]));
      const lower = pts.map((p) => api.coord([p[0], p[1]])).reverse();
      return { type: 'polygon', shape: { points: upper.concat(lower) }, style: { fill: api.visual('color') } };
    },
  };
}

const CROSS = 'path://M2,0L5,3L8,0L10,2L7,5L10,8L8,10L5,7L2,10L0,8L3,5L0,2Z';

function legend(left: number, top: number, items: [string, number][]) {
  return {
    orient: 'vertical', left, top, itemGap: 0, padding: 0, itemWidth: 233, itemHeight: 10,
    selectedMode: false, z: 10, symbolKeepAspect: true,
    data: items.map(([name, w]) => ({ name, icon: `path://M0,0H233V${w}H0Z` })),
    formatter: (n: string) => labels[n],
    itemStyle: { borderWidth: 0 },
    textStyle: { fontSize: 39, color: '#000', lineHeight: 57, padding: [0, 0, 0, 20], fontFamily: FONT },
  };
}

const panels = [
  { name: 'Zenith BT 23 GHz, K', min: 25.7, max: 132, ticks: bt23Ticks, gap: 130 },
  { name: 'Zenith BT 31 GHz, K', min: 8.5, max: 175.5, ticks: bt31Ticks, gap: 130 },
  { name: 'Precip. Water Vapor, mm', min: 0.14, max: 5.46, ticks: pwvTicks, gap: 114 },
  { name: 'log10 Liquid Water Path, log10(g/m\u00b2)', min: -0.1, max: 4.5, ticks: lwpTicks, gap: 114 },
  { name: 'MWR Phy Iter DQ Flag', min: -0.5, max: 11.5, ticks: flagTicks, gap: 107 },
];

const W_2C = 3.5;
const W_3C = 4;
const W_PHY = 8;
const W_ADI = 5;

function buildOption() {
  const grid = GRID_TOPS.map((top) => ({ left: GRID_LEFT, top, width: GRID_WIDTH, height: GRID_HEIGHT, containLabel: false }));
  const xAxis = panels.map((_, i) => ({
    type: 'value', gridIndex: i, min: 6, max: 9, interval: 0.5,
    name: 'UTC hours on 20240826', nameLocation: 'middle', nameGap: 96,
    nameTextStyle: { fontSize: 46, color: INK, fontFamily: FONT },
    axisLine: { show: true, onZero: false, lineStyle: { color: INK, width: 2.5 } },
    axisTick: { show: true, inside: true, length: 27, lineStyle: { color: INK, width: 2 } },
    axisLabel: { fontSize: 37, color: INK, margin: 32, fontFamily: FONT },
    splitLine: { show: false },
  }));
  const yAxis = panels.flatMap((p, i) => [
    {
      type: 'value', gridIndex: i, min: p.min, max: p.max, position: 'left',
      name: p.name, nameLocation: 'middle', nameGap: p.gap,
      nameTextStyle: { fontSize: 46, color: AXIS_BLUE, fontFamily: FONT },
      axisLine: { show: true, onZero: false, lineStyle: { color: AXIS_BLUE, width: 2.5 } },
      axisTick: { show: true, inside: true, length: 27, customValues: p.ticks, lineStyle: { color: AXIS_BLUE, width: 2 } },
      axisLabel: { fontSize: 37, color: AXIS_BLUE, margin: 29, customValues: p.ticks, fontFamily: FONT },
      splitLine: { show: false },
    },
    {
      type: 'value', gridIndex: i, min: p.min, max: p.max, position: 'right',
      axisLine: { show: true, onZero: false, lineStyle: { color: AXIS_BLUE, width: 2 } },
      axisTick: { show: false }, axisLabel: { show: false }, splitLine: { show: false },
    },
  ]);

  // flag-derived shading for the LWP panel
  const flagged = toRuns(expandRuns(flag3Runs).concat(expandRuns(flag4Runs)));
  const heavy = toRuns(expandRuns(flag10Runs).concat(expandRuns(flag11Runs)));

  const adiLo = lwpAdiabatic.map((v, k) => (v === null || lwpAdiabaticErr[k] === null ? null : v - (lwpAdiabaticErr[k] as number)));
  const adiHi = lwpAdiabatic.map((v, k) => (v === null || lwpAdiabaticErr[k] === null ? null : v + (lwpAdiabaticErr[k] as number)));

  const flagSets: [number, number[][]][] = [
    [0, flag0Runs], [3, flag3Runs], [4, flag4Runs], [6, flag6Runs], [7, flag7Runs], [9, flag9Runs], [10, flag10Runs], [11, flag11Runs],
  ];
  const flagPoints = flagSets.flatMap(([f, runs]) => expandRuns(runs).map((k) => [minuteTime(k), f]));

  const series: any[] = [
    // panel 1
    line('p1_2c', bt23Mwr2c, 0, C_2C, W_2C),
    line('p1_3c', bt23Mwr3c, 0, C_3C, W_3C),
    line('p1_phy', bt23PhyIter, 0, C_PHY, W_PHY),
    spans(wetWindowRuns, 0, panels[0].min, 'rgba(210,180,140,0.5)'),
    // panel 2
    line('p2_2c', bt31Mwr2c, 1, C_2C, W_2C),
    line('p2_3c', bt31Mwr3c, 1, C_3C, W_3C),
    line('p2_phy', bt31PhyIter, 1, C_PHY, W_PHY),
    // panel 3
    line('p3_2c', pwvMwr2c, 2, C_2C, W_2C),
    line('p3_3c', pwvMwr3c, 2, C_3C, W_3C),
    line('p3_phy', pwvPhyIter, 2, C_PHY, W_PHY),
    spans(pwvOnly2cRuns, 2, panels[2].min, 'rgba(210,180,140,0.5)'),
    spans(pwvOnly3cRuns, 2, panels[2].min, 'rgba(165,42,42,0.5)'),
    // panel 4
    band(bandRuns(adiLo, adiHi), 3, 'rgba(128,0,128,0.2)'),
    band(bandRuns(lwpPhyIterLo, lwpPhyIterHi), 3, 'rgba(255,140,0,0.2)'),
    line('p4_2c', gridded(lwpMwr2c), 3, C_2C, W_2C),
    line('p4_3c', gridded(lwpMwr3c), 3, C_3C, W_3C),
    line('p4_phy', gridded(lwpPhyIter), 3, C_PHY, W_PHY),
    line('p4_adi', gridded(lwpAdiabatic), 3, C_ADI, W_ADI),
    {
      type: 'scatter', xAxisIndex: 3, yAxisIndex: 6, data: isolated(lwpPhyIter), symbol: CROSS, symbolSize: 18,
      itemStyle: { color: C_PHY }, z: 2, silent: true,
    },
    {
      type: 'scatter', xAxisIndex: 3, yAxisIndex: 6, data: isolated(lwpAdiabatic), symbol: CROSS, symbolSize: 18,
      itemStyle: { color: C_ADI }, z: 2, silent: true,
    },
    spans(flagged, 3, panels[3].min, 'rgba(204,204,204,0.5)'),
    spans(heavy, 3, panels[3].min, 'rgba(0,255,255,0.5)'),
    // panel 5
    {
      type: 'scatter', xAxisIndex: 4, yAxisIndex: 8, data: flagPoints, symbol: 'circle', symbolSize: 8,
      itemStyle: { color: C_PHY }, clip: false, silent: true,
    },
  ];

  return {
    animation: false,
    backgroundColor: '#ffffff',
    textStyle: { fontFamily: FONT },
    grid,
    xAxis,
    yAxis,
    legend: [
      legend(626, 365, [['p1_2c', W_2C], ['p1_3c', W_3C], ['p1_phy', W_PHY]]),
      legend(2463, 1490, [['p2_2c', W_2C], ['p2_3c', W_3C], ['p2_phy', W_PHY]]),
      legend(2207, 2632, [['p3_2c', W_2C], ['p3_3c', W_3C], ['p3_phy', W_PHY]]),
      legend(548, 3708, [['p4_2c', W_2C], ['p4_3c', W_3C], ['p4_phy', W_PHY], ['p4_adi', W_ADI]]),
    ],
    series,
  };
}

export default function App() {
  const ref = useRef<HTMLDivElement | null>(null);

  useEffect(() => {
    if (!ref.current) return;
    const chart = echarts.init(ref.current, undefined, { renderer: 'svg' });
    chart.setOption(buildOption() as any);
    return () => chart.dispose();
  }, []);

  return (
    <div
      ref={ref}
      style={{
        position: 'absolute', left: 0, top: 0, width: PAGE_W, height: PAGE_H, background: '#fff',
        transform: `scale(1, ${VIEW_H / PAGE_H})`, transformOrigin: '0 0',
      }}
    />
  );
}
